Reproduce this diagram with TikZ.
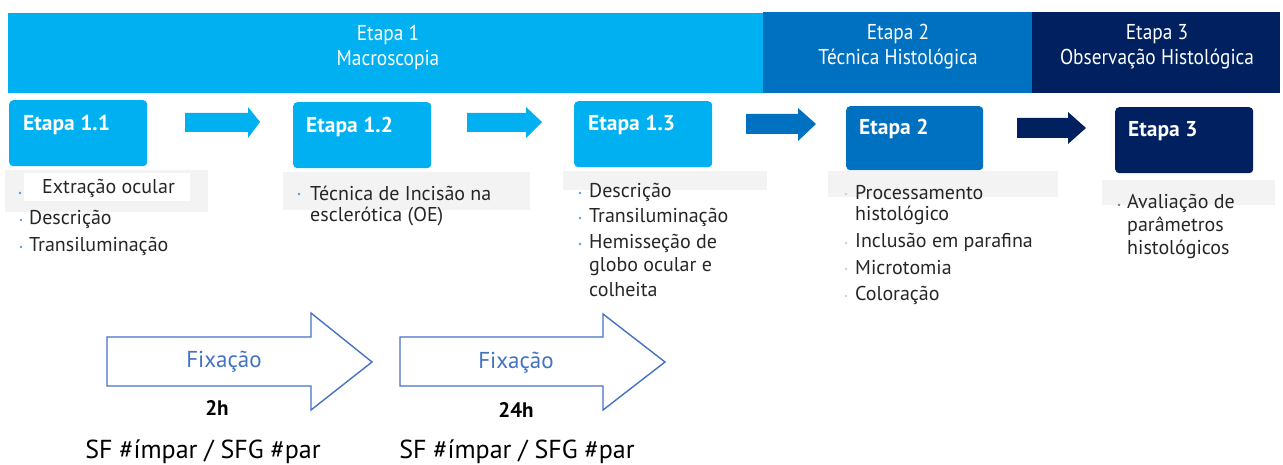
\documentclass[tikz,border=0pt]{standalone}
\usepackage{fontspec}
\setmainfont{PT Sans}
\newfontfamily\condfont{PT Sans}[FakeStretch=0.9]
\definecolor{lb}{HTML}{00B0F0}
\definecolor{mb}{HTML}{0070C0}
\definecolor{db}{HTML}{002060}
\definecolor{ol}{HTML}{4472C4}
\definecolor{txt}{HTML}{262626}
\definecolor{bgg}{HTML}{F3F3F3}
\definecolor{bul}{HTML}{5B9BD5}
\begin{document}
\begin{tikzpicture}[x=1pt,y=-1pt,
  bandtext/.style={text=white, font=\condfont\fontsize{21.5}{25}\selectfont, align=center, inner sep=0pt},
  stagebox/.style={fill=#1, draw=none, rounded corners=4pt, minimum width=138pt, minimum height=66pt, anchor=north west, inner sep=0pt},
  stagelabel/.style={text=white, font=\bfseries\fontsize{21.5}{24}\selectfont, anchor=west, inner sep=0pt},
  item/.style={text=txt, font=\fontsize{20}{22}\selectfont, anchor=west, inner sep=0pt},
  dot/.style={circle, fill=bul, inner sep=0pt, minimum size=2.8pt},
  outarrow/.style={draw=ol, line width=1.4pt, fill=white, line join=miter},
  fixtext/.style={text=ol, font=\fontsize{23}{26}\selectfont, inner sep=0pt},
  hours/.style={text=black, font=\bfseries\fontsize{21}{24}\selectfont, inner sep=0pt},
  sftext/.style={text=black, font=\fontsize{26}{30}\selectfont, inner sep=0pt}
]
\useasboundingbox (0,0) rectangle (1283,465);

% top bands
\fill[lb] (8,13) rectangle (763,93);
\fill[mb] (763,12) rectangle (1032,93);
\fill[db] (1032,12) rectangle (1280,93);
\node[bandtext] (t1) at (388,47) {Etapa 1\\Macroscopia};
\node[bandtext] (t2) at (898,47) {Etapa 2\\Técnica Histológica};
\node[bandtext] (t3) at (1157,47) {Etapa 3\\Observação Histológica};

% grey backgrounds behind lists
\fill[bgg] (5,170) rectangle (208,212);
\fill[white] (24,173) rectangle (190,201);
\fill[bgg] (283,172) rectangle (530,210);
\fill[bgg] (563,171) rectangle (767,190);
\fill[bgg] (828,171) rectangle (1058,197);
\fill[bgg] (1102,180) rectangle (1275,205);

% stage boxes
\node[stagebox=lb] (b11) at (9,100) {};
\node[stagebox=lb] (b12) at (293,102) {};
\node[stagebox=lb] (b13) at (574,101) {};
\node[stagebox=mb, minimum width=137pt, minimum height=64pt] (b2) at (846,106) {};
\node[stagebox=db] (b3) at (1115,107) {};
\node[stagelabel] (l11) at (23,125) {Etapa 1.1};
\node[stagelabel] (l12) at (306,127) {Etapa 1.2};
\node[stagelabel] (l13) at (588,125) {Etapa 1.3};
\node[stagelabel] (l2) at (859,129) {Etapa 2};
\node[stagelabel] (l3) at (1128,131) {Etapa 3};

% block arrows
\fill[lb] (185,113) -- (248,113) -- (248,107) -- (260,122) -- (248,138) -- (248,132) -- (185,132) -- cycle;
\fill[lb] (467,113) -- (526,113) -- (526,107) -- (542,122) -- (526,138) -- (526,132) -- (467,132) -- cycle;
\fill[mb] (746,114) -- (798,114) -- (798,108) -- (816,124) -- (798,141) -- (798,134) -- (746,134) -- cycle;
\fill[db] (1017,118) -- (1068,118) -- (1068,112) -- (1086,128) -- (1068,144) -- (1068,138) -- (1017,138) -- cycle;

% list 1
\node[dot] (d11) at (20,193) {};
\node[item] (i11) at (42,188) {Extração ocular};
\node[dot] (d12) at (21,220) {};
\node[item] (i12) at (29,219) {Descrição};
\node[dot] (d13) at (21,247) {};
\node[item] (i13) at (29,246) {Transiluminação};

% list 2
\node[dot] (d21) at (299,194) {};
\node[item] (i21) at (310,193) {Técnica de Incisão na};
\node[item] (i22) at (310,217) {esclerótica (OE)};

% list 3
\node[dot] (d31) at (580,193) {};
\node[item] (i31) at (589,192) {Descrição};
\node[dot] (d32) at (580,218) {};
\node[item] (i32) at (589,217) {Transiluminação};
\node[dot] (d33) at (580,244) {};
\node[item] (i33) at (589,243) {Hemisseção de};
\node[item] (i34) at (589,267) {globo ocular e};
\node[item] (i35) at (589,290) {colheita};

% list 4
\node[dot, fill=bgg!70!gray] (d41) at (846,194) {};
\node[item] (i41) at (855,193) {Processamento};
\node[item] (i42) at (855,215) {histológico};
\node[dot, fill=bgg!70!gray] (d43) at (846,243) {};
\node[item] (i43) at (855,242) {Inclusão em parafina};
\node[dot, fill=bgg!70!gray] (d44) at (846,269) {};
\node[item] (i44) at (855,268) {Microtomia};
\node[dot, fill=bgg!70!gray] (d45) at (846,296) {};
\node[item] (i45) at (855,295) {Coloração};

% list 5
\node[dot, fill=txt!60] (d51) at (1119,205) {};
\node[item] (i51) at (1127,203) {Avaliação de};
\node[item] (i52) at (1127,226) {parâmetros};
\node[item] (i53) at (1127,249) {histológicos};

% outline arrows
\draw[outarrow] (107,337) -- (311,337) -- (311,313) -- (372,362) -- (311,410) -- (311,386) -- (107,386) -- cycle;
\draw[outarrow] (400,337) -- (603,337) -- (603,314) -- (665,362) -- (603,410) -- (603,386) -- (400,386) -- cycle;
\node[fixtext] (f1) at (224,362) {Fixação};
\node[fixtext] (f2) at (516,363) {Fixação};
\node[hours] (h1) at (217,408) {2h};
\node[hours] (h2) at (516,410) {24h};
\node[sftext] (s1) at (203,452) {SF \#ímpar / SFG \#par};
\node[sftext] (s2) at (517,452) {SF \#ímpar / SFG \#par};
\end{tikzpicture}
\end{document}
